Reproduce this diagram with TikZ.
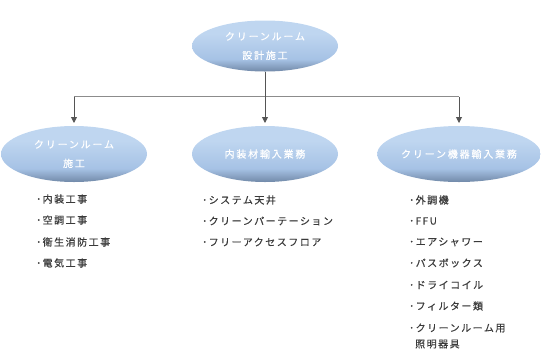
\documentclass[tikz,border=0pt]{standalone}
\usepackage{fontspec}
\usetikzlibrary{shapes.geometric,arrows.meta}
\newfontfamily\jp[LetterSpace=18,FakeBold=0.4]{Noto Sans CJK JP}
\newfontfamily\jpl[LetterSpace=15,FakeBold=0.4]{Noto Sans CJK JP}
\definecolor{ebot}{HTML}{7189A8}
\definecolor{emid}{HTML}{A6C2E5}
\definecolor{etop}{HTML}{BFD6F0}
\definecolor{linec}{HTML}{555555}
\definecolor{hlinec}{HTML}{8C8C8C}
\definecolor{listc}{HTML}{3A3A3A}
\pgfdeclareverticalshading{ellshade}{100bp}{color(0bp)=(ebot); color(25bp)=(ebot); color(37bp)=(emid); color(62bp)=(etop); color(100bp)=(etop)}
\tikzset{
  ellnode/.style={ellipse, shading=ellshade, minimum width=146pt, minimum height=56pt, inner sep=0pt, outer sep=0pt, text=white, align=center, font={\jp\fontsize{10}{19}\selectfont}},
  listitem/.style={anchor=west, inner sep=0pt, text=listc, font={\jpl\fontsize{10}{11}\selectfont}},
  conn/.style={draw=linec, line width=0.9pt, -{Triangle[length=6pt,width=6pt]}, shorten >=3pt},
  hconn/.style={draw=hlinec, line width=0.9pt}
}
\begin{document}
\begin{tikzpicture}[x=1pt,y=-1pt]
\useasboundingbox (0,0) rectangle (541,357);
\node[ellnode, minimum height=51pt] (top) at (265,46) {クリーンルーム\\設計施工};
\node[ellnode] (a) at (74,154) {クリーンルーム\\施工};
\node[ellnode] (b) at (265,154) {内装材輸入業務};
\node[ellnode] (c) at (459,154) {クリーン機器輸入業務};
\coordinate (hl) at (74,96.5);
\coordinate (hr) at (459,96.5);
\draw[hconn] (hl) -- (hr);
\draw[conn] (top.south) -- (b.north);
\draw[conn] (hl) -- (a.north);
\draw[conn] (hr) -- (c.north);
% left list
\node[listitem] (a1) at (36,199) {･内装工事};
\node[listitem] (a2) at (36,220) {･空調工事};
\node[listitem] (a3) at (36,242) {･衛生消防工事};
\node[listitem] (a4) at (36,263) {･電気工事};
% middle list
\node[listitem] (b1) at (202,200) {･システム天井};
\node[listitem] (b2) at (202,221) {･クリーンパーテーション};
\node[listitem] (b3) at (202,242) {･フリーアクセスフロア};
% right list
\node[listitem] (c1) at (409,200) {･外調機};
\node[listitem] (c2) at (409,221) {･FFU};
\node[listitem] (c3) at (409,242) {･エアシャワー};
\node[listitem] (c4) at (409,263) {･パスボックス};
\node[listitem] (c5) at (409,285) {･ドライコイル};
\node[listitem] (c6) at (409,306) {･フィルター類};
\node[listitem] (c7) at (409,328) {･クリーンルーム用};
\node[listitem] (c8) at (415,344) {照明器具};
\end{tikzpicture}
\end{document}
